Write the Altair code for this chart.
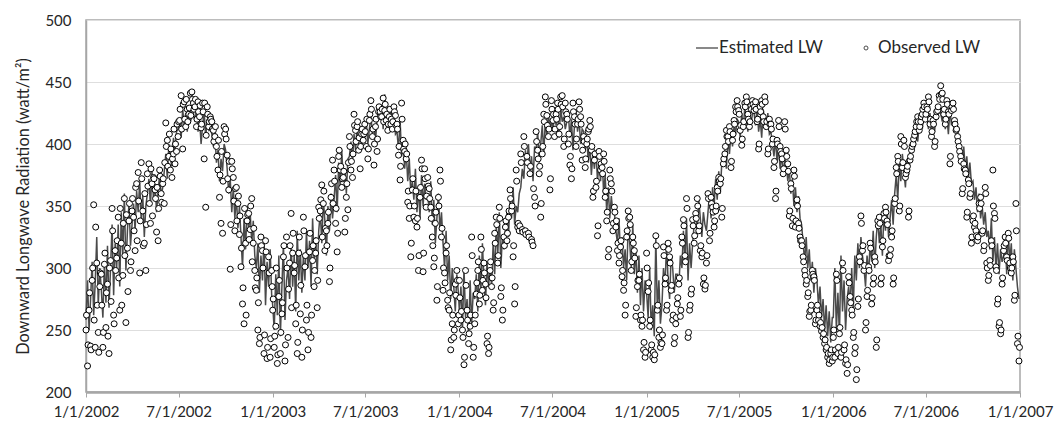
import altair as alt
import pandas as pd

years = [2002, 2003, 2004, 2005, 2006]
step_days = 3

est_2002 = [
    258, 290, 250, 275, 305, 262, 288, 325, 270, 300,
    282, 260, 305, 272, 318, 268, 300, 335, 278, 320,
    300, 335, 285, 345, 310, 360, 298, 330, 352, 318,
    335, 352, 330, 362, 345, 370, 338, 358, 325, 350,
    360, 372, 350, 378, 355, 368, 345, 362, 375, 358,
    365, 378, 392, 372, 400, 388, 382, 405, 395, 410,
    412, 420, 405, 428, 415, 425, 410, 430, 418, 422,
    425, 418, 428, 410, 420, 400, 415, 426, 405, 420, 412,
    415, 408, 398, 410, 385, 395, 370, 388, 378, 400,
    395, 380, 360, 372, 345, 365, 340, 358, 332, 350,
    325, 300, 340, 315, 350, 330, 345, 320, 338, 310,
    300, 320, 280, 310, 290, 325, 270, 305, 285, 315, 278]
obs_2002 = [
    250, 221, 266, 237, 290, 351, 236, 304, 248, 285,
    295, 236, 303, 252, 287, 231, 306, 348, 262, 314,
    308, 341, 266, 320, 294, 356, 256, 316, 338, 298,
    346, 341, 314, 368, 377, 296, 385, 346, 320, 298,
    376, 384, 336, 368, 373, 363, 329, 322, 379, 360,
    368, 352, 417, 403, 390, 379, 373, 392, 384, 394,
    406, 419, 439, 396, 434, 414, 428, 424, 441, 442,
    433, 430, 414, 434, 422, 413, 433, 388, 349, 430, 414,
    422, 418, 411, 406, 398, 379, 357, 336, 328, 414,
    412, 391, 363, 299, 386, 373, 330, 365, 352, 327,
    301, 271, 255, 320, 338, 344, 331, 356, 320, 298,
    282, 250, 239, 325, 314, 231, 322, 227, 309, 228, 298]
obs_b_2002 = [
    262, 238, 280, 234, 300, 258, 333, 270, 232, 296,
    270, 248, 312, 280, 245, 300, 273, 330, 255, 298,
    322, 292, 348, 270, 336, 310, 343, 281, 352, 305,
    356, 330, 365, 322, 354, 338, 372, 318, 360, 335,
    366, 352, 380, 342, 372, 356, 365, 348, 374, 353,
    372, 385, 398, 382, 408, 396, 388, 412, 400, 416,
    418, 428, 412, 432, 420, 436, 418, 429, 423, 436,
    428, 436, 420, 426, 431, 416, 426, 433, 407, 424, 418,
    420, 412, 402, 414, 390, 403, 375, 394, 370, 408,
    404, 372, 386, 335, 380, 354, 364, 338, 358, 342,
    316, 284, 348, 262, 343, 323, 350, 305, 332, 284,
    292, 272, 244, 318, 300, 246, 313, 236, 296, 243, 285]

est_2003 = [
    270, 250, 295, 262, 310, 245, 285, 320, 258, 290,
    300, 275, 320, 285, 310, 265, 330, 290, 315, 280,
    310, 290, 330, 300, 322, 285, 340, 305, 325, 295,
    330, 345, 320, 355, 338, 310, 350, 330, 360, 340,
    355, 375, 345, 385, 365, 395, 370, 380, 360, 388,
    390, 402, 385, 408, 395, 415, 400, 410, 395, 412,
    405, 418, 400, 412, 422, 408, 415, 402, 420, 425,
    420, 430, 412, 440, 418, 425, 410, 428, 415, 422, 408,
    410, 395, 420, 390, 402, 380, 395, 370, 388, 360,
    370, 355, 380, 345, 365, 340, 375, 350, 368, 355,
    360, 345, 370, 335, 355, 320, 340, 360, 330, 345,
    320, 300, 330, 290, 310, 275, 300, 285, 265, 295, 280]
obs_2003 = [
    266, 236, 253, 223, 277, 231, 263, 309, 225, 325,
    244, 304, 344, 312, 296, 255, 231, 312, 263, 228,
    341, 301, 258, 234, 313, 244, 306, 285, 312, 268,
    349, 346, 367, 352, 314, 330, 336, 289, 357, 387,
    379, 336, 313, 390, 379, 365, 373, 329, 357, 347,
    406, 379, 373, 424, 411, 414, 395, 380, 408, 403,
    416, 398, 388, 419, 435, 406, 383, 414, 394, 426,
    426, 422, 437, 427, 419, 411, 422, 416, 412, 430, 423,
    416, 391, 371, 433, 403, 394, 388, 353, 340, 309,
    363, 341, 338, 333, 298, 357, 387, 297, 380, 349,
    373, 364, 349, 325, 301, 336, 274, 357, 379, 325,
    282, 296, 312, 274, 266, 234, 255, 244, 287, 298, 255]
obs_b_2003 = [
    275, 245, 300, 230, 290, 248, 272, 318, 238, 300,
    283, 318, 268, 328, 302, 270, 240, 325, 286, 250,
    330, 310, 270, 248, 328, 262, 318, 298, 322, 290,
    340, 355, 325, 362, 332, 318, 345, 300, 368, 352,
    370, 348, 328, 395, 382, 372, 378, 340, 368, 385,
    398, 386, 392, 415, 402, 418, 405, 398, 412, 408,
    410, 420, 396, 424, 428, 412, 400, 420, 404, 430,
    422, 428, 418, 432, 424, 416, 428, 420, 418, 426, 415,
    412, 398, 382, 420, 396, 400, 392, 362, 350, 320,
    372, 350, 362, 340, 310, 365, 380, 312, 372, 358,
    366, 356, 340, 318, 308, 345, 285, 350, 370, 332,
    300, 288, 318, 268, 280, 242, 262, 250, 278, 290, 262]

est_2004 = [
    265, 285, 250, 300, 260, 275, 245, 290, 255, 280,
    275, 295, 265, 310, 280, 320, 290, 270, 305, 285,
    300, 285, 320, 295, 335, 310, 345, 300, 325, 315,
    330, 345, 325, 355, 340, 365, 335, 350, 345, 360,
    365, 380, 372, 395, 385, 400, 378, 390, 370, 398,
    395, 410, 385, 400, 415, 392, 420, 405, 425, 410,
    420, 410, 428, 415, 425, 405, 430, 418, 422, 412,
    418, 425, 405, 420, 395, 415, 428, 410, 420, 400, 412,
    410, 395, 405, 385, 400, 375, 392, 380, 395, 370,
    385, 370, 390, 360, 375, 345, 365, 340, 358, 345,
    345, 330, 320, 340, 310, 325, 300, 315, 290, 335,
    320, 300, 335, 295, 315, 280, 310, 270, 300, 265, 290]
obs_2004 = [
    290, 258, 250, 222, 298, 266, 239, 253, 325, 228,
    255, 279, 298, 271, 325, 282, 304, 287, 239, 231,
    298, 285, 266, 328, 341, 304, 349, 277, 258, 325,
    333, 322, 341, 363, 346, 309, 271, 379, 333, 330,
    392, 331, 406, 330, 390, 328, 376, 323, 318, 357,
    410, 395, 376, 341, 392, 424, 438, 423, 406, 363,
    435, 419, 406, 424, 433, 408, 438, 439, 398, 433,
    424, 400, 383, 372, 433, 422, 398, 416, 434, 422, 387,
    406, 381, 400, 410, 419, 395, 357, 387, 365, 326,
    394, 379, 381, 392, 357, 338, 309, 379, 368, 330,
    349, 333, 314, 304, 317, 293, 282, 262, 325, 346,
    341, 298, 325, 314, 261, 285, 290, 258, 253, 234, 228]
obs_b_2004 = [
    276, 265, 244, 228, 286, 258, 247, 262, 310, 236,
    262, 288, 305, 278, 315, 290, 296, 276, 245, 236,
    305, 292, 272, 320, 335, 310, 340, 284, 266, 318,
    338, 328, 346, 356, 350, 318, 285, 370, 336, 334,
    385, 329, 398, 327, 385, 325, 382, 321, 364, 350,
    402, 388, 382, 352, 398, 418, 432, 415, 412, 372,
    428, 424, 412, 420, 428, 414, 432, 430, 404, 426,
    420, 408, 390, 380, 426, 416, 404, 420, 428, 416, 395,
    402, 388, 404, 412, 414, 398, 362, 392, 370, 334,
    390, 384, 376, 386, 362, 345, 315, 372, 362, 336,
    345, 338, 320, 310, 322, 298, 288, 270, 330, 340,
    335, 305, 320, 308, 268, 290, 295, 262, 258, 240, 232]

est_2005 = [
    280, 260, 300, 250, 270, 245, 325, 265, 290, 255,
    270, 300, 285, 320, 290, 275, 310, 300, 280, 295,
    295, 285, 310, 300, 330, 305, 340, 290, 320, 300,
    320, 335, 345, 330, 355, 340, 325, 345, 335, 330,
    345, 360, 340, 365, 350, 372, 355, 378, 360, 385,
    385, 395, 380, 405, 392, 410, 398, 415, 408, 420,
    418, 405, 425, 412, 430, 420, 410, 428, 415, 425,
    425, 415, 430, 410, 420, 405, 428, 418, 412, 425, 408,
    410, 400, 390, 405, 385, 398, 380, 392, 375, 388,
    385, 370, 380, 360, 372, 350, 365, 345, 358, 340,
    335, 320, 305, 325, 300, 315, 290, 305, 280, 300,
    290, 270, 285, 260, 275, 250, 270, 245, 265, 240, 260]
obs_2005 = [
    312, 281, 253, 234, 228, 226, 326, 266, 244, 236,
    239, 317, 287, 266, 320, 309, 282, 258, 239, 255,
    271, 287, 261, 325, 339, 310, 356, 244, 266, 279,
    339, 320, 344, 356, 330, 314, 309, 287, 283, 304,
    360, 322, 357, 349, 333, 346, 365, 373, 368, 341,
    384, 392, 411, 406, 414, 381, 403, 419, 430, 435,
    427, 411, 399, 414, 433, 438, 424, 414, 431, 435,
    427, 434, 418, 396, 430, 435, 422, 438, 414, 392, 420,
    416, 400, 381, 356, 403, 419, 398, 392, 376, 418,
    395, 384, 342, 368, 334, 379, 333, 355, 336, 325,
    322, 309, 298, 287, 277, 261, 266, 298, 293, 255,
    266, 258, 253, 249, 244, 239, 234, 228, 223, 231, 225]
obs_b_2005 = [
    300, 288, 258, 238, 232, 230, 318, 270, 250, 240,
    246, 310, 292, 270, 315, 304, 286, 262, 244, 260,
    276, 292, 266, 320, 334, 305, 348, 248, 270, 283,
    334, 326, 340, 350, 334, 318, 312, 292, 286, 310,
    356, 328, 352, 345, 338, 350, 362, 370, 372, 348,
    388, 398, 406, 402, 410, 386, 408, 416, 426, 430,
    424, 415, 404, 418, 430, 434, 420, 418, 428, 432,
    430, 428, 420, 400, 426, 432, 418, 434, 418, 396, 416,
    412, 404, 386, 362, 400, 414, 394, 388, 380, 412,
    390, 378, 346, 364, 340, 374, 338, 350, 332, 322,
    318, 305, 294, 290, 280, 265, 270, 295, 290, 258,
    270, 262, 256, 252, 247, 242, 236, 231, 226, 234, 228]

est_2006 = [
    260, 300, 250, 280, 245, 310, 265, 290, 250, 275,
    285, 270, 300, 265, 310, 290, 320, 300, 325, 310,
    300, 285, 310, 295, 320, 305, 330, 300, 325, 340,
    320, 335, 310, 345, 330, 350, 325, 340, 355, 335,
    360, 375, 355, 385, 370, 392, 378, 365, 388, 375,
    390, 400, 395, 405, 410, 402, 415, 420, 412, 425,
    420, 428, 412, 425, 405, 418, 410, 425, 420, 432,
    425, 418, 430, 412, 422, 408, 428, 415, 420, 410, 415,
    410, 400, 395, 388, 398, 380, 390, 372, 385, 368,
    370, 355, 365, 345, 360, 340, 350, 335, 345, 325,
    330, 315, 340, 305, 325, 300, 320, 295, 315, 305,
    310, 325, 295, 330, 305, 320, 290, 315, 300, 285, 275]
obs_2006 = [
    244, 228, 295, 231, 247, 228, 304, 234, 223, 215,
    293, 277, 266, 244, 231, 210, 269, 309, 342, 314,
    298, 250, 277, 301, 320, 271, 287, 309, 236, 338,
    341, 287, 317, 344, 349, 338, 306, 310, 325, 287,
    352, 381, 390, 346, 406, 381, 403, 373, 379, 341,
    387, 395, 400, 407, 414, 422, 411, 418, 424, 433,
    420, 430, 438, 416, 406, 419, 398, 422, 427, 439,
    447, 441, 424, 416, 435, 426, 384, 427, 433, 419, 411,
    406, 398, 390, 360, 384, 379, 341, 371, 357, 320,
    338, 333, 330, 322, 352, 357, 328, 314, 365, 304,
    290, 306, 322, 379, 344, 301, 271, 253, 247, 287,
    314, 325, 309, 328, 304, 296, 309, 274, 352, 239, 225]
obs_b_2006 = [
    250, 234, 290, 236, 252, 232, 298, 238, 226, 222,
    288, 272, 262, 248, 236, 218, 275, 305, 336, 318,
    302, 256, 282, 298, 316, 276, 292, 305, 242, 334,
    336, 292, 322, 340, 345, 335, 310, 315, 330, 292,
    356, 376, 386, 350, 400, 385, 398, 376, 382, 346,
    390, 398, 404, 410, 418, 418, 414, 422, 428, 430,
    424, 428, 434, 420, 410, 416, 402, 426, 430, 436,
    440, 436, 428, 420, 432, 424, 390, 430, 428, 416, 412,
    402, 394, 386, 364, 380, 376, 345, 368, 360, 325,
    342, 336, 326, 325, 348, 352, 330, 318, 360, 300,
    294, 302, 318, 350, 340, 298, 275, 256, 250, 292,
    318, 320, 306, 324, 300, 300, 305, 278, 330, 245, 236]

estimated = {2002: est_2002, 2003: est_2003, 2004: est_2004, 2005: est_2005, 2006: est_2006}
observed = {2002: obs_2002, 2003: obs_2003, 2004: obs_2004, 2005: obs_2005, 2006: obs_2006}
observed_b = {2002: obs_b_2002, 2003: obs_b_2003, 2004: obs_b_2004, 2005: obs_b_2005,
              2006: obs_b_2006}

y_ticks = [200, 250, 300, 350, 400, 450, 500]
legend_labels = ["Estimated LW", "Observed LW"]
y_title = "Downward Longwave Radiation (watt/m\u00b2)"

est_frames, obs_frames = [], []
for y in years:
    d = pd.date_range(f"{y}-01-01", periods=len(estimated[y]), freq=f"{step_days}D")
    d_b = d + pd.Timedelta(days=1)
    est_frames.append(pd.DataFrame({"date": d.strftime("%Y-%m-%dT00:00:00"),
                                    "est": estimated[y]}))
    obs_frames.append(pd.DataFrame({"date": d.strftime("%Y-%m-%dT00:00:00"),
                                    "obs": observed[y]}))
    obs_frames.append(pd.DataFrame({"date": d_b.strftime("%Y-%m-%dT00:00:00"),
                                    "obs": observed_b[y]}))
df_est = pd.concat(est_frames, ignore_index=True)
df_obs = pd.concat(obs_frames, ignore_index=True).sort_values("date").reset_index(drop=True)

tick_dates = []
for y in years:
    tick_dates.append(alt.DateTime(year=y, month=1, date=1))
    tick_dates.append(alt.DateTime(year=y, month=7, date=1))
tick_dates.append(alt.DateTime(year=2007, month=1, date=1))

FONT = "Lato"
x_scale = alt.Scale(domain=[alt.DateTime(year=2002, month=1, date=1),
                            alt.DateTime(year=2007, month=1, date=1)])
x_enc = alt.X("date:T", scale=x_scale,
              axis=alt.Axis(values=tick_dates, format="%-m/%-d/%Y", title=None,
                            grid=False, tickSize=5, tickColor="#a6a6a6",
                            domainColor="#a6a6a6", domainWidth=2.5,
                            labelPadding=7, labelFontSize=15, labelFont=FONT,
                            labelColor="#262626", labelOverlap=False,
                            labelFlush=False))
y_scale = alt.Scale(domain=[200, 500], nice=False)
y_axis = alt.Axis(values=y_ticks, title=y_title, grid=True, gridColor="#dedede",
                  ticks=False, domainColor="#a6a6a6", domainWidth=1.5,
                  labelPadding=15, labelFontSize=15, labelFont=FONT, labelColor="#262626",
                  titleFont=FONT, titleFontSize=16.3, titleFontWeight="normal",
                  titleColor="#262626", titlePadding=13)

line = alt.Chart(df_est).mark_line(color="#4a4a4a", strokeWidth=1.5).encode(
    x=x_enc, y=alt.Y("est:Q", scale=y_scale, axis=y_axis))
pts = alt.Chart(df_obs).mark_point(shape="circle", filled=False, fill="white", color="black",
                                    size=36, strokeWidth=1, opacity=1).encode(
    x=alt.X("date:T", scale=x_scale), y=alt.Y("obs:Q", scale=y_scale))

one = df_est.head(1)
leg_line = alt.Chart(one).mark_rule(color="#4a4a4a", strokeWidth=1.3).encode(
    x=alt.value(610), x2=alt.value(632), y=alt.value(28))
leg_t1 = alt.Chart(one).mark_text(align="left", baseline="middle", font=FONT,
                                  fontSize=17, color="#262626").encode(
    x=alt.value(633), y=alt.value(28), text=alt.value(legend_labels[0]))
leg_pt = alt.Chart(one).mark_point(shape="circle", filled=False, fill="white",
                                   color="black", size=16, strokeWidth=1).encode(
    x=alt.value(780), y=alt.value(28))
leg_t2 = alt.Chart(one).mark_text(align="left", baseline="middle", font=FONT,
                                  fontSize=17, color="#262626").encode(
    x=alt.value(792), y=alt.value(28), text=alt.value(legend_labels[1]))

chart = alt.layer(line, pts, leg_line, leg_t1, leg_pt, leg_t2).properties(
    width=934, height=372,
    autosize=alt.AutoSizeParams(type="none"),
    padding={"left": 86, "top": 20, "right": 34, "bottom": 32},
    background="white",
).configure_view(stroke="#a6a6a6", strokeWidth=1.5)

chart.save("out.html", embed_options={"renderer": "svg", "actions": False})
